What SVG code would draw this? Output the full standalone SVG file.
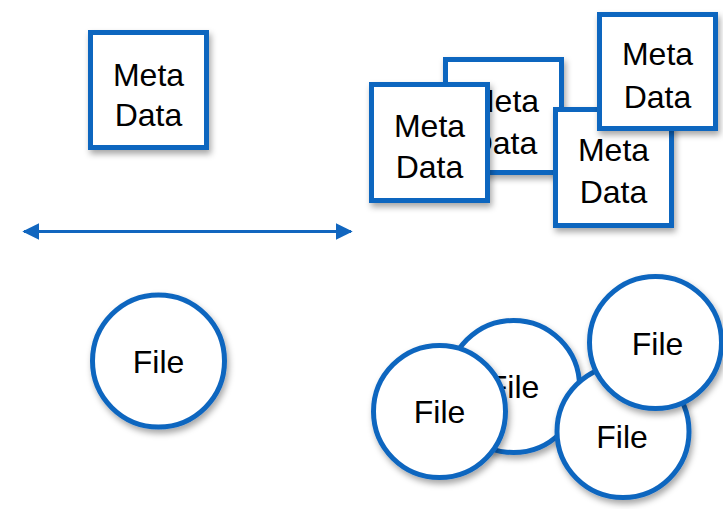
<svg xmlns="http://www.w3.org/2000/svg" width="723" height="509" viewBox="0 0 723 509">
<defs>
<filter id="sh" x="-20%" y="-20%" width="150%" height="150%">
<feDropShadow dx="2" dy="4" stdDeviation="3" flood-color="#000" flood-opacity="0.35"/>
</filter>
<marker id="ah" viewBox="0 0 10 10" refX="9" refY="5" markerWidth="5.6" markerHeight="6" orient="auto-start-reverse" markerUnits="strokeWidth">
<path d="M0,0 L10,5 L0,10 Z" fill="#1166BF"/>
</marker>
</defs>
<style>
.box{fill:#fff;stroke:#1166BF;stroke-width:5;filter:url(#sh)}
.circ{fill:#fff;stroke:#1166BF;stroke-width:5;filter:url(#sh)}
.t{font-family:"Liberation Sans",Arial,sans-serif;font-size:32px;fill:#000;text-anchor:middle}
</style>
<rect width="723" height="509" fill="#fff"/>
<g id="meta-single">
<rect class="box" x="90.5" y="32.5" width="116" height="115"/>
<text class="t" x="148.5" y="86">Meta</text>
<text class="t" x="148.5" y="126">Data</text>
</g>
<g id="meta-b">
<rect class="box" x="445.5" y="59.5" width="116" height="113"/>
<text class="t" x="503.5" y="112">Meta</text>
<text class="t" x="503.5" y="154">Data</text>
</g>
<g id="meta-a">
<rect class="box" x="371.5" y="84.5" width="116" height="116"/>
<text class="t" x="429.5" y="137">Meta</text>
<text class="t" x="429.5" y="178">Data</text>
</g>
<g id="meta-c">
<rect class="box" x="555.5" y="109.5" width="116" height="116"/>
<text class="t" x="613.5" y="161">Meta</text>
<text class="t" x="613.5" y="203">Data</text>
</g>
<g id="meta-d">
<rect class="box" x="599.5" y="14.5" width="116" height="114"/>
<text class="t" x="657.5" y="65">Meta</text>
<text class="t" x="657.5" y="108">Data</text>
</g>
<g id="connectors">
<line x1="24" y1="231.5" x2="351" y2="231.5" stroke="#1166BF" stroke-width="3" marker-start="url(#ah)" marker-end="url(#ah)"/>
</g>
<g id="file-single">
<circle class="circ" cx="158.5" cy="361" r="66"/>
<text class="t" x="158.5" y="373">File</text>
</g>
<g id="file-m">
<circle class="circ" cx="513.5" cy="386.5" r="66"/>
<text class="t" x="513.5" y="398">File</text>
</g>
<g id="file-l">
<circle class="circ" cx="439.5" cy="411.5" r="66"/>
<text class="t" x="439.5" y="423">File</text>
</g>
<g id="file-rl">
<circle class="circ" cx="623" cy="431.5" r="66"/>
<text class="t" x="622" y="448">File</text>
</g>
<g id="file-ru">
<circle class="circ" cx="655.5" cy="342.5" r="66"/>
<text class="t" x="657.5" y="355">File</text>
</g>
</svg>
